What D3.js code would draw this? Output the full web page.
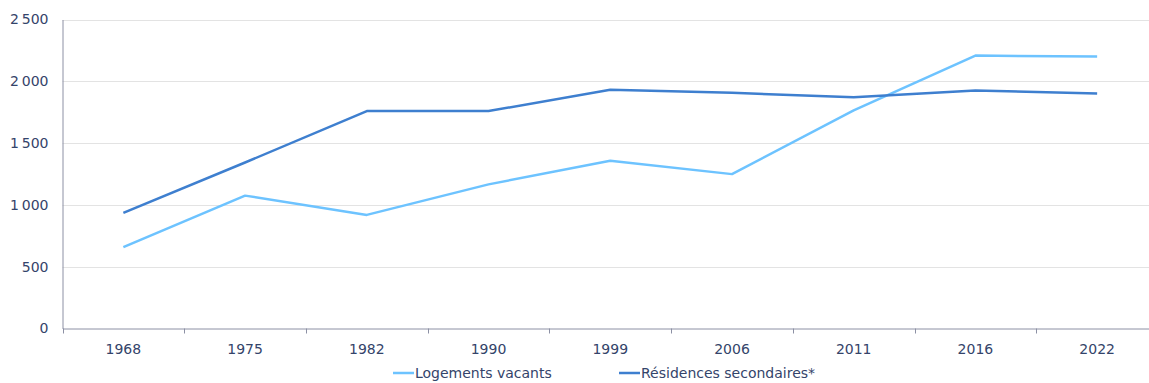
<!DOCTYPE html>
<html><head><meta charset="utf-8">
<script src="https://cdn.jsdelivr.net/npm/d3@7"></script>
<style>
html,body{margin:0;padding:0;background:#fff;overflow:hidden;}
text{font-family:Verdana,"DejaVu Sans",sans-serif;}
</style></head>
<body><svg id="c" width="1149" height="383"></svg>
<script>
const years = ["1968","1975","1982","1990","1999","2006","2011","2016","2022"];
const vacants = [658, 1075, 919, 1166, 1358, 1249, 1764, 2208, 2200];
const secondaires = [935, 1343, 1759, 1759, 1931, 1907, 1871, 1926, 1902];
const yTicks = [0, 500, 1000, 1500, 2000, 2500];
const seriesNames = ["Logements vacants", "Résidences secondaires*"];
const colors = ["#6dc3ff", "#3e7fcf"];

(function () {
const svg = d3.select("#c");
const mLeft = 62.5, mRight = 1158, mTop = 19.5, mBottom = 328.5;
const x = d3.scaleBand().domain(years).range([mLeft, mRight]);
const y = d3.scaleLinear().domain([0, 2500]).range([mBottom, mTop]);
const fmt = d3.formatLocale({decimal: ",", thousands: "\u202f", grouping: [3], currency: ["", "€"]}).format(",d");
const textColor = "#34446a";
const fs = 14;

// gridlines
svg.append("g").selectAll("line").data(yTicks.filter(d => d > 0)).join("line")
  .attr("x1", mLeft).attr("x2", 1149).attr("y1", d => Math.round(y(d)) + 0.5).attr("y2", d => Math.round(y(d)) + 0.5)
  .attr("stroke", "#e3e3e3").attr("stroke-width", 1);

// y axis
const ya = svg.append("g").attr("transform", `translate(${mLeft},0)`)
  .call(d3.axisLeft(y).tickValues(yTicks).tickSize(0).tickPadding(14).tickFormat(fmt));
ya.select(".domain").attr("stroke", "#8c90a4");
ya.selectAll("text").attr("fill", textColor).attr("font-size", fs).style("font-family", 'Verdana,"DejaVu Sans",sans-serif');

// x axis
const xa = svg.append("g").attr("transform", `translate(0,${mBottom})`)
  .call(d3.axisBottom(x).tickSize(0).tickPadding(16));
xa.select(".domain").attr("stroke", "#8c90a4");
xa.selectAll("text").attr("fill", textColor).attr("font-size", fs).style("font-family", 'Verdana,"DejaVu Sans",sans-serif');
svg.append("g").selectAll("line").data(years).join("line")
  .attr("x1", d => Math.round(x(d)) + 0.5).attr("x2", d => Math.round(x(d)) + 0.5)
  .attr("y1", mBottom).attr("y2", mBottom + 5).attr("stroke", "#8c90a4");

// lines
const line = d3.line().x((d, i) => x(years[i]) + x.bandwidth() / 2).y(d => y(d));
[vacants, secondaires].forEach((s, i) => {
  svg.append("path").datum(s).attr("d", line).attr("fill", "none")
    .attr("stroke", colors[i]).attr("stroke-width", 2.5).attr("stroke-linejoin", "round");
});

// legend
const legX = [393, 619];
seriesNames.forEach((n, i) => {
  const g = svg.append("g").attr("transform", `translate(${legX[i]},373)`);
  g.append("line").attr("x1", 0).attr("x2", 21).attr("y1", 0).attr("y2", 0)
    .attr("stroke", colors[i]).attr("stroke-width", 2.5);
  g.append("text").attr("x", 22).attr("y", 5).attr("font-size", fs).attr("fill", textColor).text(n);
});
})();
</script></body></html>
